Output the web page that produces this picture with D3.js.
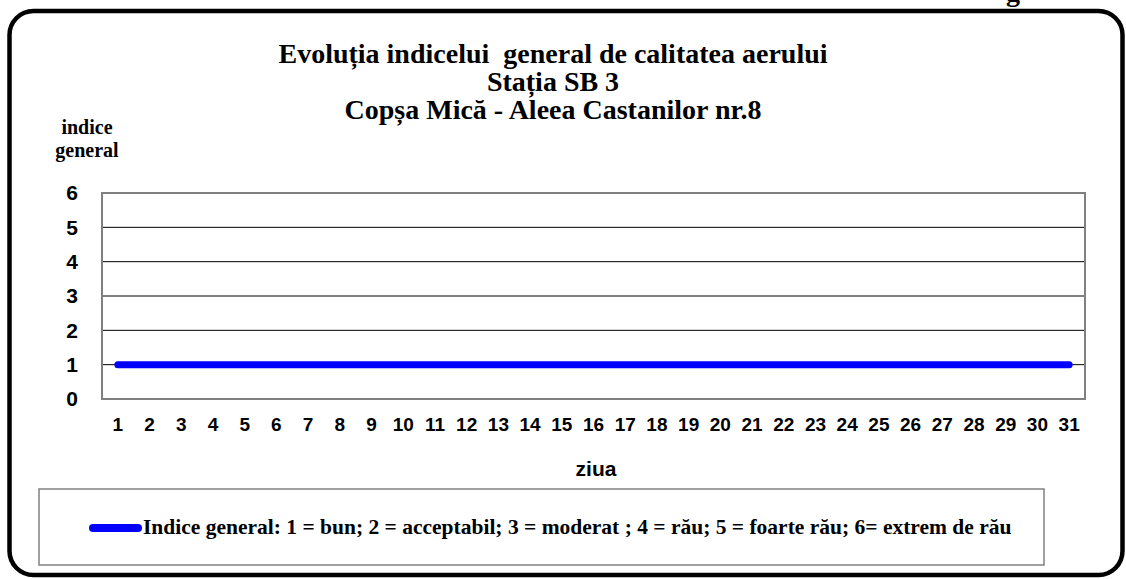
<!DOCTYPE html>
<html>
<head>
<meta charset="utf-8">
<script src="https://cdn.jsdelivr.net/npm/d3@7"></script>
<style>
  body { margin: 0; background: #fff; }
  svg { display: block; }
  .title { white-space: pre; }
</style>
</head>
<body>
<svg id="chart" width="1126" height="579"></svg>
<script>
// date: ziua 1..31, indice general
var days = d3.range(1, 32);
var indice = [1,1,1,1,1,1,1,1,1,1,1,1,1,1,1,1,1,1,1,1,1,1,1,1,1,1,1,1,1,1,1];
var yTicks = [0, 1, 2, 3, 4, 5, 6];
var titleLines = ["Evoluția indicelui  general de calitatea aerului", "Stația SB 3", "Copșa Mică - Aleea Castanilor nr.8"];
var legendText = "Indice general: 1 = bun; 2 = acceptabil; 3 = moderat ; 4 = rău; 5 = foarte rău; 6= extrem de rău";

var serif = "'Liberation Serif', 'Times New Roman', serif";
var sans = "'Liberation Sans', Arial, sans-serif";

var svg = d3.select("#chart");

var plot = {left: 102, right: 1085, top: 193, bottom: 399};

// outer frame
svg.append("rect")
  .attr("x", 9.5).attr("y", 11)
  .attr("width", 1113).attr("height", 564)
  .attr("rx", 24).attr("ry", 24)
  .attr("fill", "none").attr("stroke", "#000").attr("stroke-width", 4.5);

// cut-off text above the frame
svg.append("text")
  .attr("x", 1013).attr("y", 1)
  .attr("text-anchor", "middle")
  .attr("font-family", serif).attr("font-weight", "bold").attr("font-size", 28)
  .text("g");

// title
svg.append("g").selectAll("text").data(titleLines).enter()
  .append("text")
  .attr("class", "title")
  .attr("x", 553).attr("y", function(d, i) { return 63 + i * 28; })
  .attr("text-anchor", "middle")
  .attr("font-family", serif).attr("font-weight", "bold").attr("font-size", 28)
  .text(function(d) { return d; });

// y axis title
svg.append("g").selectAll("text").data(["indice", "general"]).enter()
  .append("text")
  .attr("x", 87).attr("y", function(d, i) { return 134 + i * 23; })
  .attr("text-anchor", "middle")
  .attr("font-family", serif).attr("font-weight", "bold").attr("font-size", 20)
  .text(function(d) { return d; });

var x = d3.scaleBand().domain(days).range([plot.left, plot.right]);
var y = d3.scaleLinear().domain([0, 6]).range([plot.bottom, plot.top]);

// gridlines
svg.append("g").selectAll("line").data(yTicks.slice(1, 6)).enter()
  .append("line")
  .attr("x1", plot.left).attr("x2", plot.right)
  .attr("y1", function(d) { return y(d); }).attr("y2", function(d) { return y(d); })
  .attr("stroke", "#000").attr("stroke-width", 1);

// plot border
svg.append("rect")
  .attr("x", plot.left).attr("y", plot.top)
  .attr("width", plot.right - plot.left).attr("height", plot.bottom - plot.top)
  .attr("fill", "none").attr("stroke", "#808080").attr("stroke-width", 2);

// y labels
var yAxis = d3.axisLeft(y).tickValues(yTicks).tickSize(0).tickPadding(24).tickFormat(d3.format("d"));
var gy = svg.append("g").attr("transform", "translate(" + plot.left + ",0)").call(yAxis);
gy.select(".domain").remove();
gy.selectAll("text")
  .attr("font-family", sans).attr("font-weight", "bold").attr("font-size", 21).attr("fill", "#000");

// x labels
var xAxis = d3.axisBottom(x).tickSize(0).tickPadding(19);
var gx = svg.append("g").attr("transform", "translate(0," + plot.bottom + ")").call(xAxis);
gx.select(".domain").remove();
gx.selectAll("text")
  .attr("font-family", sans).attr("font-weight", "bold").attr("font-size", 19).attr("fill", "#000");

svg.append("text")
  .attr("x", 596).attr("y", 476)
  .attr("text-anchor", "middle")
  .attr("font-family", sans).attr("font-weight", "bold").attr("font-size", 21)
  .text("ziua");

// series line
var line = d3.line()
  .x(function(d, i) { return x(days[i]) + x.bandwidth() / 2; })
  .y(function(d) { return y(d); });

svg.append("path")
  .datum(indice)
  .attr("d", line)
  .attr("fill", "none").attr("stroke", "#0000ff")
  .attr("stroke-width", 7).attr("stroke-linecap", "round").attr("stroke-linejoin", "round");

// legend
svg.append("rect")
  .attr("x", 39).attr("y", 489).attr("width", 1005).attr("height", 76)
  .attr("fill", "none").attr("stroke", "#808080").attr("stroke-width", 1.5);

svg.append("line")
  .attr("x1", 93).attr("x2", 138).attr("y1", 528).attr("y2", 528)
  .attr("stroke", "#0000ff").attr("stroke-width", 8).attr("stroke-linecap", "round");

svg.append("text")
  .attr("x", 143).attr("y", 534)
  .attr("font-family", serif).attr("font-weight", "bold").attr("font-size", 21.5)
  .text(legendText);
</script>
</body>
</html>
